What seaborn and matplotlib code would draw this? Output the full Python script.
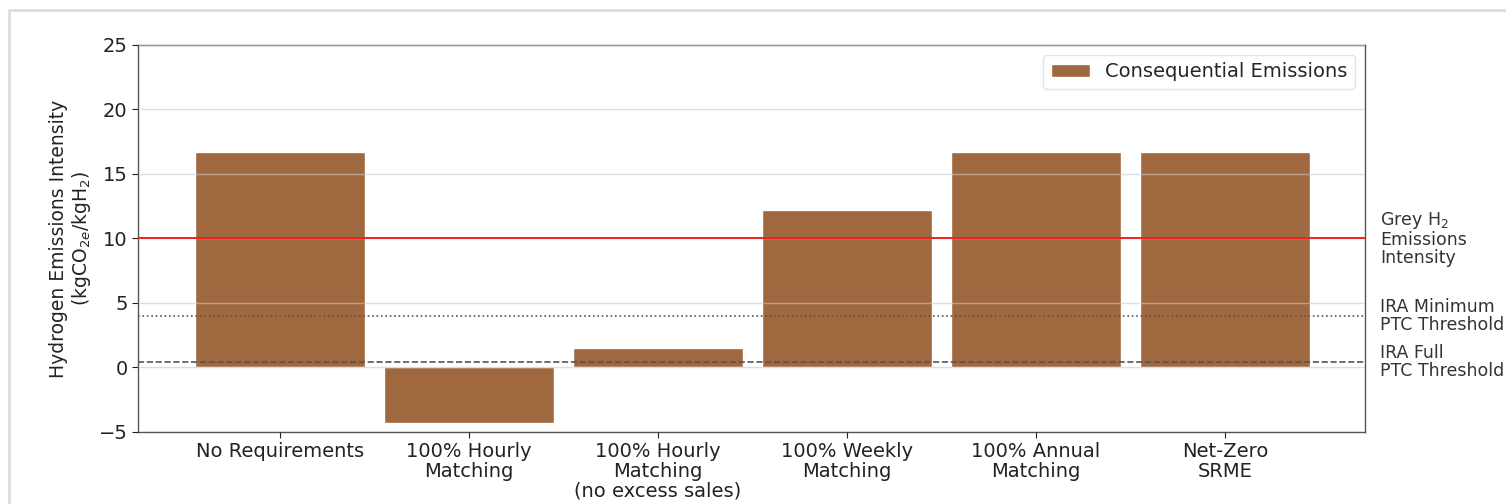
import matplotlib
matplotlib.use("Agg")
import matplotlib.pyplot as plt
import seaborn as sns
import pandas as pd
from matplotlib.patches import Rectangle

categories = ["No Requirements", "100% Hourly\nMatching", "100% Hourly\nMatching\n(no excess sales)",
              "100% Weekly\nMatching", "100% Annual\nMatching", "Net-Zero\nSRME"]
emissions = [16.7, -4.3, 1.5, 12.2, 16.7, 16.7]
grey_h2 = 10.0
ira_min = 4.0
ira_full = 0.45
yticks = [-5, 0, 5, 10, 15, 20, 25]

sns.set_style("white")
plt.rcParams['font.family'] = ['DejaVu Sans']

fig = plt.figure(figsize=(15.06, 5.04), dpi=100)
ax = fig.add_axes([0.0916, 0.143, 0.8148, 0.768])

df = pd.DataFrame({"cat": categories, "val": emissions})
sns.barplot(data=df, x="cat", y="val", color="#A0683F", saturation=1, width=0.9,
            label="Consequential Emissions", ax=ax, zorder=1)

ax.set_xlim(-0.75, 5.74)
ax.set_ylim(-5, 25)
ax.set_yticks(yticks)
ax.yaxis.grid(True, color="#c8c8c8", alpha=0.6, linewidth=1, zorder=2)
ax.set_axisbelow(False)

ax.axhline(grey_h2, color="#ee2222", linewidth=1.4, zorder=3)
ax.axhline(ira_min, color="#555555", linewidth=1.2, linestyle=":", zorder=3)
ax.axhline(ira_full, color="#555555", linewidth=1.2, linestyle="--", zorder=3)

trans = ax.get_yaxis_transform()
for yv, txt in [(grey_h2, "Grey H$_2$\nEmissions\nIntensity"),
                (ira_min, "IRA Minimum\nPTC Threshold"),
                (ira_full, "IRA Full\nPTC Threshold")]:
    ax.text(1.012, yv, txt, transform=trans, va="center", ha="left",
            fontsize=12.5, color="#333333", linespacing=1.0)

ax.set_xlabel("")
ax.set_ylabel("Hydrogen Emissions Intensity\n(kgCO$_{2e}$/kgH$_2$)", fontsize=13.5, color="#222222",
              linespacing=1.15)
ax.tick_params(axis="both", labelsize=14, colors="#222222", length=4, bottom=True, left=True)
for lbl in ax.get_xticklabels():
    lbl.set_linespacing(1.05)
for s in ax.spines.values():
    s.set_color("#555555")
    s.set_linewidth(1)

leg = ax.legend(loc="upper right", fontsize=14, frameon=True, fancybox=True, handlelength=2.0,
                borderaxespad=0.5)
leg.get_frame().set_edgecolor("#dddddd")

fig.patches.append(Rectangle((0.006, -0.02), 1.1, 1.0, transform=fig.transFigure,
                             fill=False, edgecolor="#dddddd", linewidth=2, zorder=-1))

fig.savefig("out.png", dpi=100)
